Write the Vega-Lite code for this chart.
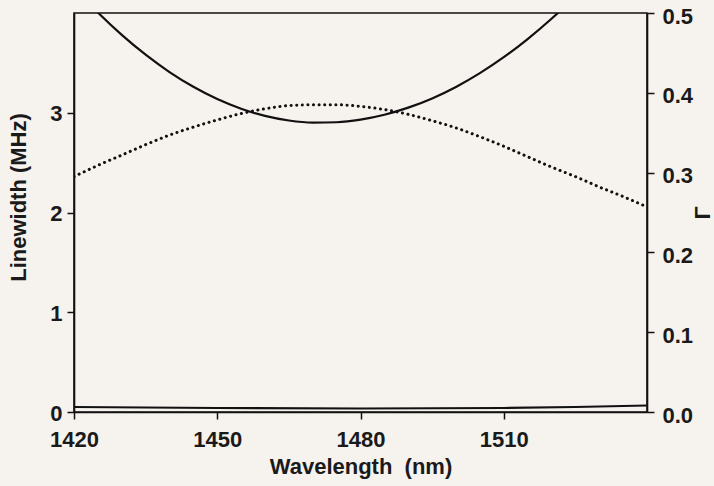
{
  "$schema": "https://vega.github.io/schema/vega-lite/v6.json",
  "width": 573,
  "height": 399,
  "autosize": "none",
  "padding": {"left": 74, "top": 13, "right": 67, "bottom": 74},
  "background": "#f6f2ed",
  "config": {
    "view": {"stroke": "#111111", "strokeWidth": 1.6},
    "font": "Liberation Sans",
    "axis": {
      "grid": false,
      "domainColor": "#111111",
      "domainWidth": 1.6,
      "tickColor": "#111111",
      "tickWidth": 1.5,
      "tickSize": 7,
      "labelFont": "Liberation Sans",
      "labelFontSize": 22,
      "labelFontWeight": "bold",
      "labelColor": "#1a1a1a",
      "titleFont": "Liberation Sans",
      "titleFontSize": 22,
      "titleFontWeight": "bold",
      "titleColor": "#1a1a1a",
      "labelFlush": false,
      "labelOverlap": false
    }
  },
  "datasets": {
    "linewidth": [
      {"wl": 1420, "v": 4.255, "curve": "U"},
      {"wl": 1425, "v": 4.005, "curve": "U"},
      {"wl": 1430, "v": 3.781, "curve": "U"},
      {"wl": 1435, "v": 3.582, "curve": "U"},
      {"wl": 1440, "v": 3.408, "curve": "U"},
      {"wl": 1445, "v": 3.26, "curve": "U"},
      {"wl": 1450, "v": 3.137, "curve": "U"},
      {"wl": 1455, "v": 3.04, "curve": "U"},
      {"wl": 1460, "v": 2.968, "curve": "U"},
      {"wl": 1465, "v": 2.922, "curve": "U"},
      {"wl": 1470, "v": 2.901, "curve": "U"},
      {"wl": 1475, "v": 2.905, "curve": "U"},
      {"wl": 1480, "v": 2.931, "curve": "U"},
      {"wl": 1485, "v": 2.98, "curve": "U"},
      {"wl": 1490, "v": 3.051, "curve": "U"},
      {"wl": 1495, "v": 3.144, "curve": "U"},
      {"wl": 1500, "v": 3.259, "curve": "U"},
      {"wl": 1505, "v": 3.397, "curve": "U"},
      {"wl": 1510, "v": 3.557, "curve": "U"},
      {"wl": 1515, "v": 3.739, "curve": "U"},
      {"wl": 1520, "v": 3.942, "curve": "U"},
      {"wl": 1525, "v": 4.169, "curve": "U"},
      {"wl": 1530, "v": 4.418, "curve": "U"},
      {"wl": 1420, "v": 0.05, "curve": "base"},
      {"wl": 1450, "v": 0.04, "curve": "base"},
      {"wl": 1480, "v": 0.035, "curve": "base"},
      {"wl": 1510, "v": 0.04, "curve": "base"},
      {"wl": 1525, "v": 0.05, "curve": "base"},
      {"wl": 1540, "v": 0.065, "curve": "base"}
    ],
    "gamma": [
      {"wl": 1420, "g": 0.295},
      {"wl": 1425, "g": 0.309},
      {"wl": 1430, "g": 0.322},
      {"wl": 1435, "g": 0.335},
      {"wl": 1440, "g": 0.347},
      {"wl": 1445, "g": 0.357},
      {"wl": 1450, "g": 0.366},
      {"wl": 1455, "g": 0.374},
      {"wl": 1460, "g": 0.38},
      {"wl": 1465, "g": 0.384},
      {"wl": 1470, "g": 0.385},
      {"wl": 1475, "g": 0.385},
      {"wl": 1480, "g": 0.383},
      {"wl": 1485, "g": 0.379},
      {"wl": 1490, "g": 0.373},
      {"wl": 1495, "g": 0.365},
      {"wl": 1500, "g": 0.356},
      {"wl": 1505, "g": 0.345},
      {"wl": 1510, "g": 0.333},
      {"wl": 1515, "g": 0.32},
      {"wl": 1520, "g": 0.307},
      {"wl": 1525, "g": 0.295},
      {"wl": 1530, "g": 0.282},
      {"wl": 1535, "g": 0.27},
      {"wl": 1540, "g": 0.257}
    ]
  },
  "layer": [
    {
      "data": {"name": "linewidth"},
      "mark": {"type": "line", "color": "#111111", "strokeWidth": 2.2, "clip": true, "interpolate": "monotone"},
      "encoding": {
        "x": {
          "field": "wl", "type": "quantitative",
          "scale": {"domain": [1420, 1540], "nice": false, "zero": false},
          "axis": {"values": [1420, 1450, 1480, 1510], "format": "d", "title": "Wavelength\u00a0 (nm)", "labelPadding": 10, "titlePadding": 6}
        },
        "y": {
          "field": "v", "type": "quantitative",
          "scale": {"domain": [0, 4], "nice": false},
          "axis": {"values": [0, 1, 2, 3], "format": "d", "title": "Linewidth (MHz)", "labelPadding": 5, "labelOffset": 1, "titlePadding": 19, "titleY": 184}
        },
        "detail": {"field": "curve", "type": "nominal"}
      }
    },
    {
      "data": {"name": "gamma"},
      "mark": {"type": "line", "color": "#111111", "strokeWidth": 3, "strokeDash": [0.1, 5.5], "strokeCap": "round", "clip": true, "interpolate": "monotone"},
      "encoding": {
        "x": {"field": "wl", "type": "quantitative", "scale": {"domain": [1420, 1540], "nice": false, "zero": false}},
        "y": {
          "field": "g", "type": "quantitative",
          "scale": {"domain": [0, 0.5], "nice": false},
          "axis": {"orient": "right", "values": [0, 0.1, 0.2, 0.3, 0.4, 0.5], "format": ".1f", "title": "Γ", "titleAngle": 270, "labelPadding": 8, "labelOffset": 3, "titlePadding": 22}
        }
      }
    }
  ],
  "resolve": {"scale": {"y": "independent"}}
}
